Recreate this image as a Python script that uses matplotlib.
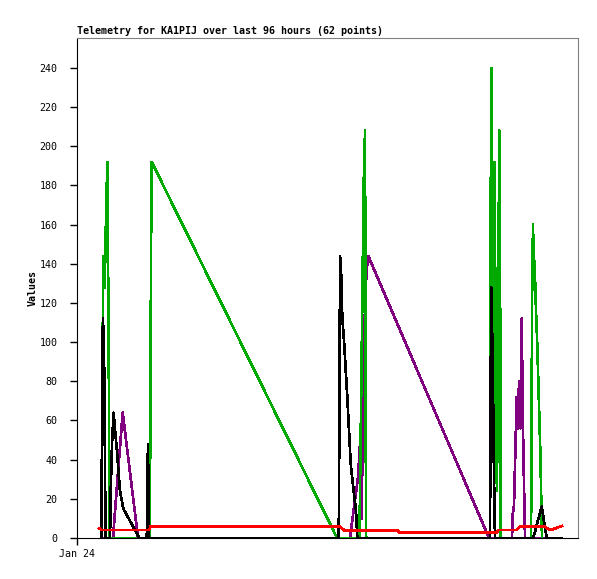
import matplotlib
matplotlib.use("Agg")
import matplotlib.pyplot as plt

# hours since the start of the plotted window (Jan 24 00:00)
green_t = [4.89, 5.05, 5.25, 5.53, 5.79, 6.05, 6.33, 6.49, 14.47, 14.63, 14.77, 14.91,
           51.90, 56.39, 56.49, 56.75, 56.99, 57.23, 57.49, 57.62, 57.72,
           82.44, 82.50, 82.69, 82.83, 83.03, 83.37, 83.63, 83.83, 84.03, 84.29, 84.49, 84.59,
           90.62, 90.72, 90.82, 91.02, 91.08, 91.42, 91.62, 91.88, 92.08, 92.28, 92.48, 92.61, 92.81]
green_v = [0, 72, 144, 128, 164, 192, 96, 0, 0, 48, 144, 192,
           0, 0, 26, 78, 130, 182, 208, 56, 0,
           0, 120, 240, 144, 104, 192, 48, 24, 104, 208, 104, 0,
           0, 40, 120, 160, 151, 133, 116, 98, 80, 62, 44, 27, 0]

black_t = [4.89, 5.05, 5.19, 5.45, 5.69, 6.59, 6.73, 6.99, 7.29, 7.92, 8.58, 9.24, 12.44,
           13.93, 14.01, 14.17, 14.33, 52.24, 52.40, 52.50, 52.69, 52.83, 53.03, 53.29,
           53.63, 53.95, 54.29, 54.63, 54.95, 55.35, 55.69, 55.95,
           82.44, 82.53, 82.69, 82.93, 83.09, 83.23, 83.43, 91.08, 92.75, 93.75, 96.81]
black_v = [0, 96, 112, 84, 0, 0, 24, 48, 64, 46, 24, 15, 0,
           0, 24, 48, 0, 0, 72, 144, 140, 120, 110, 101,
           86, 72, 55, 38, 30, 21, 14, 0,
           0, 64, 128, 96, 64, 32, 0, 0, 16, 0, 0]

purple_t = [4.79, 7.19, 7.78, 9.12, 12.18, 54.49, 55.15, 56.09, 56.49, 56.79, 57.09,
            57.49, 57.82, 58.14, 82.24, 86.83, 86.97, 87.23, 87.76, 88.02, 88.22, 88.52,
            88.76, 89.02, 89.42, 96.81]
purple_v = [0, 0, 20, 64, 0, 0, 13, 31, 48, 10, 60,
            120, 137, 144, 0, 0, 12, 17, 72, 56, 80, 56,
            112, 55, 0, 0]

red_t = [4.39, 4.93, 14.37, 14.67, 52.50, 53.49, 64.07, 64.27, 83.83, 84.03,
         87.62, 88.42, 93.41, 94.41, 95.01, 96.81]
red_v = [5, 4, 4, 5.8, 5.8, 3.7, 3.7, 2.9, 2.9, 4,
         4, 5.8, 5.8, 4, 4.5, 6.1]

blue_t = [4.79, 96.81]
blue_v = [0, 0]

yticks = [0, 20, 40, 60, 80, 100, 120, 140, 160, 180, 200, 220, 240]

MONO = "DejaVu Sans Mono"

fig = plt.figure(figsize=(5.97, 5.79), dpi=100)
ax = fig.add_axes([77 / 597, 41 / 579, 501 / 597, 500 / 579])

lw = 1.2
ax.plot(blue_t, blue_v, color="#1f6fd0", linewidth=lw, antialiased=False)
ax.plot(purple_t, purple_v, color="#800080", linewidth=lw, antialiased=False)
ax.plot(green_t, green_v, color="#00aa00", linewidth=lw, antialiased=False)
ax.plot(black_t, black_v, color="black", linewidth=lw, antialiased=False)
ax.plot(red_t, red_v, color="#ff0000", linewidth=lw, antialiased=False)

ax.set_xlim(0, 100)
ax.set_ylim(0, 255.3)
ax.set_yticks(yticks)
ax.set_yticklabels([str(v) for v in yticks], fontfamily=MONO, fontsize=7.2)
ax.set_xticks([0])
ax.set_xticklabels(["Jan 24"], fontfamily=MONO, fontsize=7.2)
ax.tick_params(direction="out", length=5, width=1, colors="black")
ax.tick_params(axis="y", pad=9)
ax.tick_params(axis="x", pad=3)

for side in ("top", "right"):
    ax.spines[side].set_color("#808080")
for side in ("left", "bottom"):
    ax.spines[side].set_color("black")

ax.set_title("Telemetry for KA1PIJ over last 96 hours (62 points)", loc="left",
             fontfamily=MONO, fontweight="bold", fontsize=7.2, pad=3, x=0.0)
ax.set_ylabel("Values", fontfamily=MONO, fontweight="bold", fontsize=7.2, labelpad=1)

fig.savefig("out.png", dpi=100, facecolor="white")
